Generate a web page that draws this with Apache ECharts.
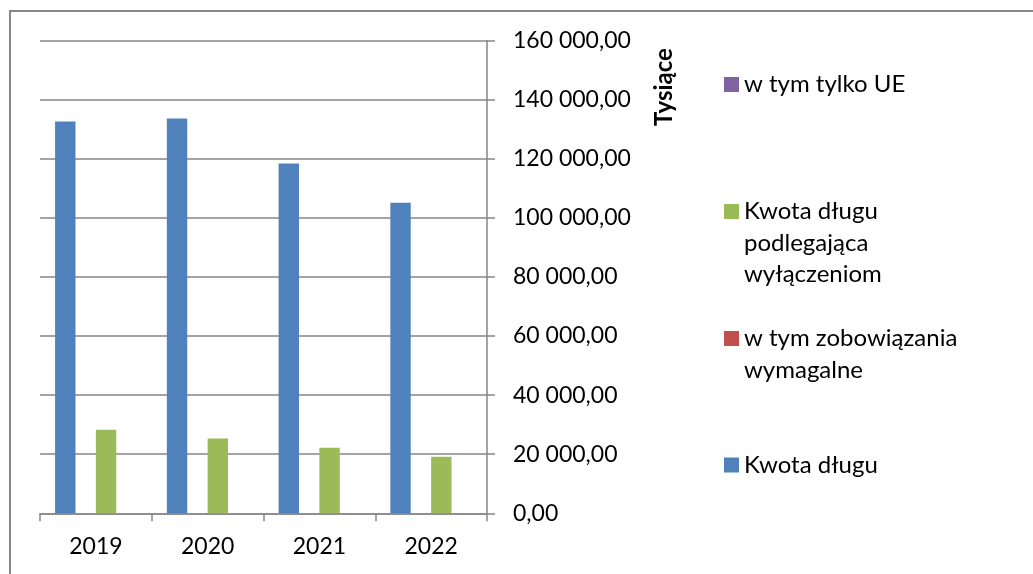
<!DOCTYPE html>
<html>
<head>
<meta charset="utf-8">
<script src="https://cdn.jsdelivr.net/npm/echarts@6/dist/echarts.min.js"></script>
<style>
html,body{margin:0;padding:0;background:#fff;}
#chart{width:1033px;height:574px;}
</style>
</head>
<body>
<div id="chart"></div>
<script>
const categories = ['2019', '2020', '2021', '2022'];
const kwotaDlugu = [132600, 133600, 118400, 105100];
const zobowiazaniaWymagalne = [0, 0, 0, 0];
const kwotaWylaczenia = [28300, 25300, 22200, 19100];
const tylkoUE = [0, 0, 0, 0];
const seriesNames = ['Kwota długu', 'w tym zobowiązania wymagalne', 'Kwota długu podlegająca wyłączeniom', 'w tym tylko UE'];
const legendLabels = ['Kwota długu', 'w tym zobowiązania\nwymagalne', 'Kwota długu\npodlegająca\nwyłączeniom', 'w tym tylko UE'];
const yMin = 0, yMax = 160000, yStep = 20000;
const unitLabel = 'Tysiące';

const FONT = 'Lato, "Open Sans", sans-serif';
const FS = 23;
const LFS = 24;
const LH = 31.6;
const gridColor = '#868686';

function fmt(v) {
  return Math.round(v).toString().replace(/\B(?=(\d{3})+(?!\d))/g, ' ') + ',00';
}

const colors = ['#4F81BD', '#C0504D', '#9BBB59', '#8064A2'];
const seriesData = [kwotaDlugu, zobowiazaniaWymagalne, kwotaWylaczenia, tylkoUE];

const legendIconCenters = [465, 338.5, 211.5, 84.5];
const legends = seriesNames.map((name, i) => {
  const lines = legendLabels[i].split('\n');
  const pad = lines.length - 1;
  const text = '\n'.repeat(pad) + legendLabels[i];
  const totalLines = lines.length + pad;
  return {
    data: [name],
    left: 724,
    top: legendIconCenters[i] - totalLines * LH / 2,
    padding: 0,
    icon: 'rect',
    itemWidth: 15,
    itemHeight: 15,
    itemGap: 0,
    selectedMode: false,
    formatter: () => text,
    textStyle: { fontFamily: FONT, fontSize: LFS, color: '#000', lineHeight: LH, padding: [0, 0, 0, 0] }
  };
});

const chart = echarts.init(document.getElementById('chart'), null, { renderer: 'canvas' });
chart.setOption({
  animation: false,
  backgroundColor: '#fff',
  color: colors,
  grid: { left: 40, right: 546, top: 40.5, bottom: 60.7, containLabel: false },
  legend: legends,
  xAxis: {
    type: 'category',
    data: categories,
    boundaryGap: true,
    axisLine: { show: true, lineStyle: { color: gridColor, width: 1.5 } },
    axisTick: { show: true, length: 8, lineStyle: { color: gridColor, width: 1.5 } },
    axisLabel: { fontFamily: FONT, fontSize: FS, color: '#000', margin: 22 },
    splitLine: { show: false }
  },
  yAxis: {
    type: 'value',
    position: 'right',
    min: yMin, max: yMax, interval: yStep,
    axisLine: { show: true, lineStyle: { color: gridColor, width: 1.5 } },
    axisTick: { show: true, length: 8, lineStyle: { color: gridColor, width: 1.5 } },
    axisLabel: { fontFamily: FONT, fontSize: FS, color: '#000', margin: 26, formatter: fmt },
    splitLine: { show: true, lineStyle: { color: gridColor, width: 1.5 } }
  },
  series: seriesNames.map((name, i) => ({
    name: name,
    type: 'bar',
    data: seriesData[i],
    barGap: '0%',
    barCategoryGap: '27%',
    itemStyle: { color: colors[i] }
  })),
  graphic: [
    {
      type: 'rect',
      shape: { x: 10, y: 11, width: 1040, height: 620 },
      style: { fill: 'none', stroke: '#878787', lineWidth: 2 },
      silent: true, z: -1
    },
    {
      type: 'text',
      x: 664, y: 87,
      rotation: Math.PI / 2,
      style: { text: unitLabel, fontFamily: FONT, fontSize: 24, fontWeight: 'bold', fill: '#000', align: 'center', verticalAlign: 'middle' }
    }
  ]
});
</script>
</body>
</html>
